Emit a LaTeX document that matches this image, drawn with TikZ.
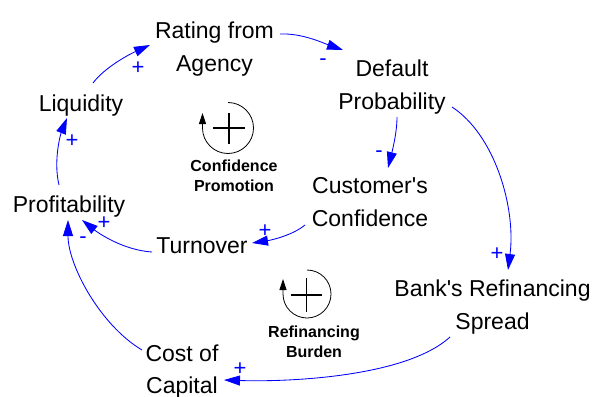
\documentclass[tikz,border=0pt]{standalone}
\usepackage{fontspec}
\setmainfont{Liberation Sans}
\usetikzlibrary{arrows.meta,calc}
\begin{document}
\begin{tikzpicture}[x=1pt,y=-1pt,
  var/.style={anchor=base, align=center, inner sep=0pt, font=\fontsize{23}{32.5}\selectfont},
  link/.style={draw=blue, line width=0.85pt, -{Triangle[length=16pt,width=10pt]}},
  pol/.style={text=blue, anchor=base, inner sep=0pt, font=\fontsize{22}{22}\selectfont},
  loopline/.style={draw=black, line width=0.8pt, -{Triangle[length=11pt,width=7pt]}},
  loopplus/.style={draw=black, line width=1.5pt},
  looptxt/.style={font=\bfseries\fontsize{16}{20}\selectfont, align=center, inner sep=0pt}]
\useasboundingbox (0,0) rectangle (596,396);
\fill[white] (0,0) rectangle (596,396);

% variables (base = baseline of last line)
\node[var] (rating)  at (214.5,71)  {Rating from\\Agency};
\node[var] (default) at (392,109)   {Default\\Probability};
\node[var] (liq)     at (81,111)    {Liquidity};
\node[var] (prof)    at (69,212)    {Profitability};
\node[var] (cust)    at (370,226)   {Customer\textquotesingle s\\Confidence};
\node[var] (turn)    at (202,253.5) {Turnover};
\node[var] (bank)    at (492.5,329) {Bank\textquotesingle s Refinancing\\Spread};
\node[var] (cost)    at (182,393.5) {Cost of\\Capital};

% links
\draw[link] ($(liq.base)+(12,-28)$) .. controls +(12,-16) and +(-20,9) .. ($(rating.base)+(-64.5,-26)$);
\draw[link] ($(rating.base)+(65.5,-37)$) .. controls +(22,-1) and +(-20,-7) .. ($(default.base)+(-49,-59)$);
\draw[link] ($(default.base)+(5,8)$) .. controls +(0,16) and +(4,-16) .. ($(cust.base)+(18,-58)$);
\draw[link] ($(default.base)+(60,-2)$) .. controls +(43,28) and +(8,-62) .. ($(bank.base)+(15.5,-59)$);
\draw[link] ($(cust.base)+(-65,-1)$) .. controls +(-12,10) and +(20,-3) .. ($(turn.base)+(50,-10.5)$);
\draw[link] ($(turn.base)+(-50,-1.5)$) .. controls +(-30,-2) and +(15,12) .. ($(prof.base)+(13,8)$);
\draw[link] ($(cost.base)+(-40,-43.5)$) .. controls +(-42,-25) and +(0,45) .. ($(prof.base)+(-1,8)$);
\draw[link] ($(prof.base)+(-10,-27)$) .. controls +(-6,-25) and +(-6,15) .. ($(liq.base)+(-14,7)$);
\draw[link] ($(bank.base)+(-42.5,8)$) .. controls +(-45,41) and +(60,2) .. ($(cost.base)+(42,-13.5)$);

% polarities
\node[pol] (p1) at (138,74.5)  {+};
\node[pol] (p2) at (323,66)    {-};
\node[pol] (p3) at (379,157)   {-};
\node[pol] (p4) at (497,260.5) {+};
\node[pol] (p5) at (265,237.5) {+};
\node[pol] (p6) at (104,229.5) {+};
\node[pol] (p7) at (83,243)    {-};
\node[pol] (p8) at (72,147.5)  {+};
\node[pol] (p9) at (240,375.5) {+};

% loop symbols
\draw[loopline] (228,128) ++(0,-25.5) arc[start angle=-90,end angle=180,radius=25.5] -- ++(0,-15);
\draw[loopplus] (213,128) -- (245,128) (229,113) -- (229,144);
\node[looptxt] (lp1) at (234,176) {Confidence\\Promotion};

\draw[loopline] (307,294) ++(0,-24) arc[start angle=-90,end angle=180,radius=24] -- ++(0,-15);
\draw[loopplus] (291,295) -- (322,295) (306.5,278) -- (306.5,312);
\node[looptxt] (lp2) at (314,342) {Refinancing\\Burden};
\end{tikzpicture}
\end{document}
